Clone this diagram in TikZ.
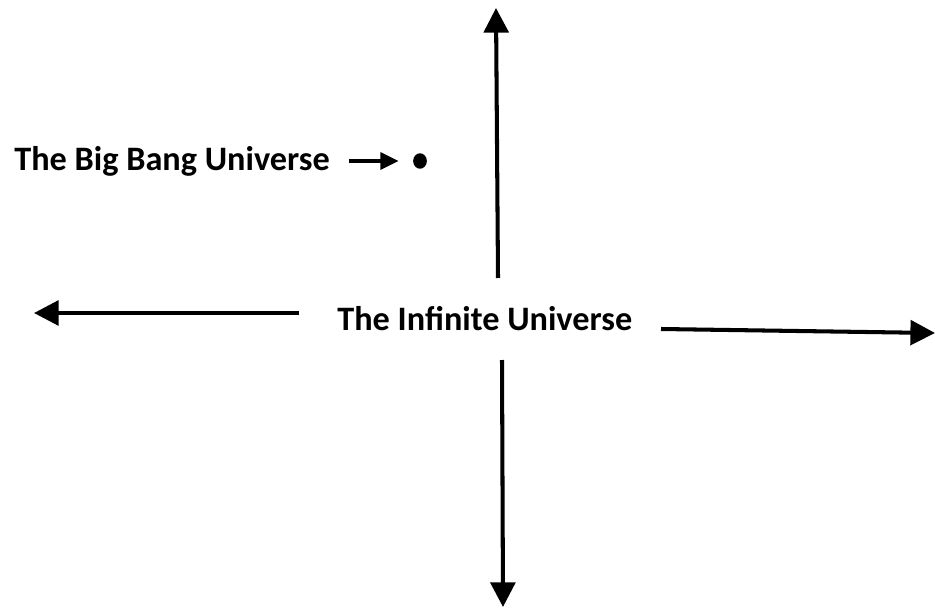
\documentclass[tikz,border=0pt]{standalone}
\usepackage{fontspec}
\setmainfont{Carlito}
\usetikzlibrary{arrows.meta, shapes.geometric}

\tikzset{
  label text/.style={font=\fontsize{19.5}{22}\selectfont\bfseries, inner sep=0pt, anchor=base west},
  big arrow/.style={-{Triangle[length=14pt, width=14pt]}, line width=2.3pt},
  small arrow/.style={-{Triangle[length=10.5pt, width=9.5pt]}, line width=2.3pt}
}

\begin{document}
\begin{tikzpicture}[x=0.02cm, y=-0.02cm]
  \useasboundingbox (0,0) rectangle (935,611);

  % Labels
  \node[label text] (infinite) at (337,330) {The Infinite Universe};
  \node[label text] (bigbang) at (14,171) {The Big Bang Universe};

  % The point of the big bang
  \node[ellipse, fill=black, inner sep=0pt, minimum width=7.8pt, minimum height=8.8pt] (bang) at (420,161) {};

  % Arrow ends
  \coordinate (up start) at (498,278);
  \coordinate (up end) at (496,8);
  \coordinate (down start) at (502,360);
  \coordinate (down end) at (503,607);
  \coordinate (left start) at (299,313);
  \coordinate (left end) at (34,313);
  \coordinate (right start) at (661,329);
  \coordinate (right end) at (935,333);

  % Expanding in every direction
  \draw[big arrow] (up start) -- (up end);
  \draw[big arrow] (down start) -- (down end);
  \draw[big arrow] (left start) -- (left end);
  \draw[big arrow] (right start) -- (right end);

  % Pointer to the big bang
  \draw[small arrow, shorten <=11pt, shorten >=8pt] (bigbang.east |- bang) -- (bang);
\end{tikzpicture}
\end{document}
